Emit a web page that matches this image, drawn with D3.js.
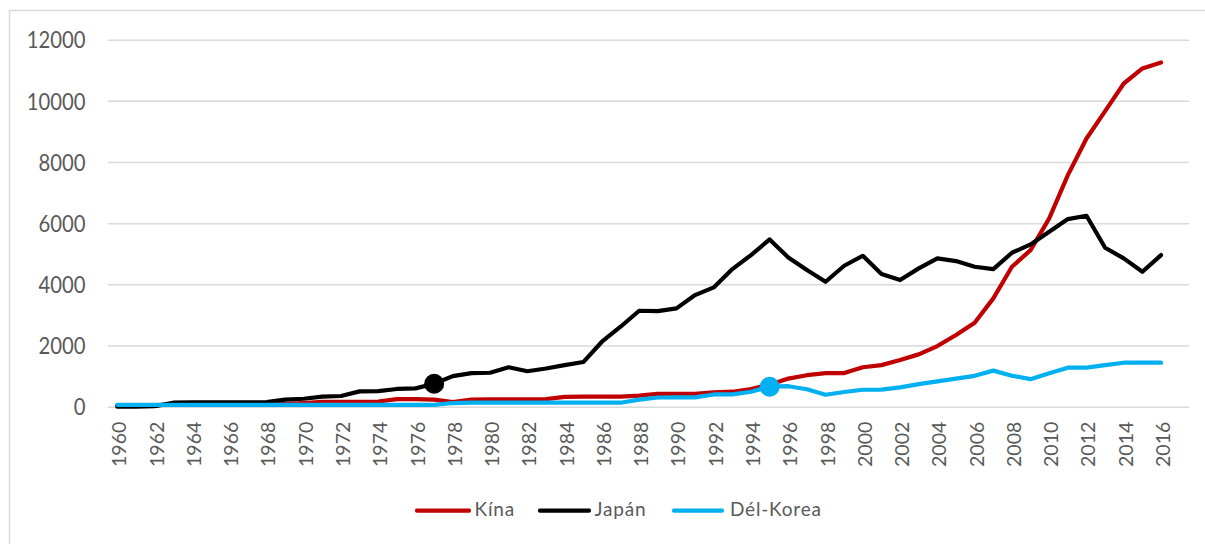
<!DOCTYPE html>
<html>
<head>
<meta charset="utf-8">
<script src="https://cdn.jsdelivr.net/npm/d3@7"></script>
<style>
  html, body { margin: 0; padding: 0; background: #fff; }
  svg { display: block; }
  text { font-family: Lato, "Open Sans", "Noto Sans", sans-serif; fill: #595959; }
</style>
</head>
<body>
<svg id="chart" width="1205" height="544"></svg>
<script>
// ---- data ----
const years = d3.range(1960, 2018); // category axis 1960..2017
const yearLabels = d3.range(1960, 2017, 2);
const yTicks = [0, 2000, 4000, 6000, 8000, 10000, 12000];
const seriesNames = ["Kína", "Japán", "Dél-Korea"];
const seriesColors = ["#C00000", "#000000", "#00B0F0"];

const kina = [30, 30, 30, 90, 90, 90, 90, 90, 90, 90,
  120, 160, 160, 160, 170, 250, 250, 230, 150, 230,
  240, 240, 240, 250, 320, 330, 330, 330, 360, 420,
  420, 420, 470, 490, 580, 720, 920, 1030, 1100, 1100,
  1290, 1360, 1525, 1711, 1983, 2343, 2745, 3542, 4575, 5120,
  6157, 7572, 8771, 9663, 10568, 11059, 11255];
const japan = [0, 0, 20, 130, 140, 140, 140, 140, 150, 230,
  260, 330, 350, 500, 510, 580, 600, 750, 1000, 1100,
  1110, 1290, 1160, 1250, 1360, 1460, 2125, 2615, 3137, 3127,
  3215, 3650, 3900, 4500, 4958, 5470, 4882, 4467, 4085, 4608,
  4935, 4337, 4140, 4522, 4850, 4762, 4575, 4500, 5033, 5307,
  5719, 6134, 6242, 5196, 4850, 4412, 4958];
const korea = [60, 60, 60, 60, 60, 60, 60, 60, 60, 60,
  60, 60, 60, 60, 60, 60, 60, 60, 120, 130,
  130, 130, 130, 130, 130, 130, 130, 130, 230, 300,
  306, 306, 400, 405, 490, 654, 670, 570, 390, 480,
  555, 560, 630, 740, 830, 920, 1010, 1180, 1013, 900,
  1090, 1275, 1280, 1362, 1438, 1438, 1438];
const markers = [ {series: 1, year: 1977}, {series: 2, year: 1995} ];

const allSeries = [kina, japan, korea];

// ---- layout ----
const svg = d3.select("#chart");
const plotLeft = 108, plotRight = 1189, plotTop = 39.7, plotBottom = 406.7;

// frame
svg.append("rect").attr("x", 9.5).attr("y", 10.5).attr("width", 1210).attr("height", 550)
  .attr("fill", "none").attr("stroke", "#d9d9d9").attr("stroke-width", 1.5);

const x = d3.scaleBand().domain(years).range([plotLeft, plotRight]).paddingInner(0).paddingOuter(0);
const y = d3.scaleLinear().domain([0, 12000]).range([plotBottom, plotTop]);
const cx = yr => x(yr) + x.bandwidth() / 2;

// gridlines + y labels
const yAxis = d3.axisLeft(y).tickValues(yTicks).tickSize(-(plotRight - plotLeft)).tickPadding(22).tickFormat(d3.format("d"));
const gy = svg.append("g").attr("transform", `translate(${plotLeft},0)`).call(yAxis);
gy.select(".domain").remove();
gy.selectAll(".tick line").attr("stroke", "#d9d9d9").attr("stroke-width", 1.5);
gy.selectAll(".tick text")
  .style("font-family", "Lato, 'Open Sans', sans-serif")
  .attr("font-size", 23).attr("fill", "#595959")
  .attr("x", null).attr("dy", null)
  .attr("transform", "translate(-22.5,8.2) scale(0.88,1)");

// x labels
const xAxis = d3.axisBottom(x).tickValues(yearLabels).tickSize(0).tickPadding(0);
const gx = svg.append("g").attr("transform", `translate(0,${plotBottom})`).call(xAxis);
gx.select(".domain").remove();
gx.selectAll(".tick text")
  .style("font-family", "Lato, 'Open Sans', sans-serif")
  .attr("font-size", 19.5).attr("fill", "#595959")
  .attr("text-anchor", "end")
  .attr("y", null).attr("dy", null)
  .attr("transform", "translate(9,15) rotate(-90)");

// lines
const line = d3.line().x((d, i) => cx(years[i])).y(d => y(d));
allSeries.forEach((s, k) => {
  svg.append("path").datum(s).attr("d", line)
    .attr("fill", "none").attr("stroke", seriesColors[k]).attr("stroke-width", 4.2)
    .attr("stroke-linejoin", "round").attr("stroke-linecap", "round");
});

// markers
markers.forEach(m => {
  const idx = years.indexOf(m.year);
  svg.append("circle").attr("cx", cx(m.year)).attr("cy", y(allSeries[m.series][idx]))
    .attr("r", 10).attr("fill", seriesColors[m.series]);
});

// legend
const legendItems = [
  {x1: 415, x2: 471, tx: 474.5},
  {x1: 538, x2: 591, tx: 594.5},
  {x1: 672, x2: 724, tx: 730}
];
const legendY = 510.7;
legendItems.forEach((it, k) => {
  svg.append("line").attr("x1", it.x1 + 2).attr("x2", it.x2 - 2).attr("y1", legendY).attr("y2", legendY)
    .attr("stroke", seriesColors[k]).attr("stroke-width", 4.2).attr("stroke-linecap", "round");
  svg.append("text").attr("x", it.tx).attr("y", legendY + 5.5)
    .attr("font-size", 19).attr("letter-spacing", 0.8).text(seriesNames[k]);
});
</script>
</body>
</html>
